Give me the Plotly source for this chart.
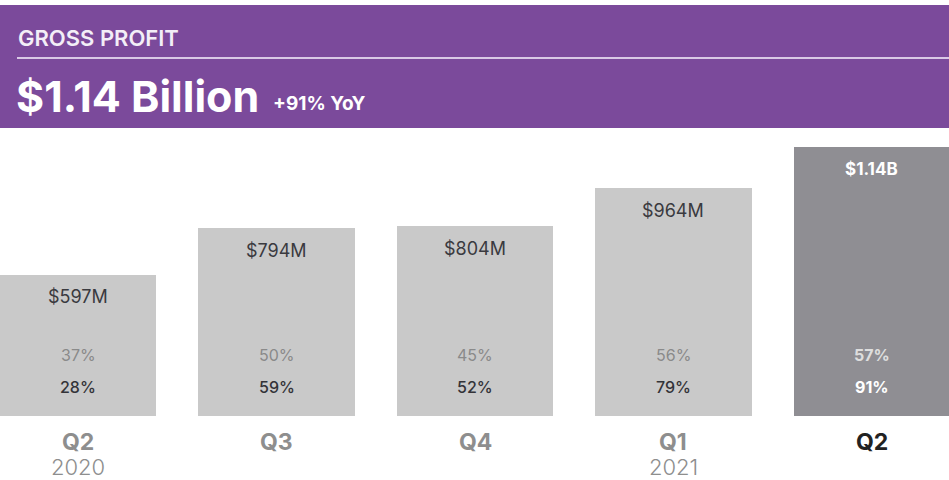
import plotly.graph_objects as go

# ---- data ----
categories = ["Q2 2020", "Q3 2020", "Q4 2020", "Q1 2021", "Q2 2021"]
quarter_labels = ["Q2", "Q3", "Q4", "Q1", "Q2"]
year_labels = ["2020", "", "", "2021", ""]
gross_profit_m = [597, 794, 804, 964, 1140]
value_labels = ["$597M", "$794M", "$804M", "$964M", "$1.14B"]
pct_row1 = ["37%", "50%", "45%", "56%", "57%"]
pct_row2 = ["28%", "59%", "52%", "79%", "91%"]

title_text = "GROSS PROFIT"
headline_text = "$1.14 Billion"
sub_text = "+91% YoY"

# ---- styles ----
FONT = "Inter"
bar_colors = ["#c9c9c9"] * 4 + ["#8f8e93"]
value_colors = ["#3a3a3f"] * 4 + ["#ffffff"]
row1_colors = ["#8a8a8a"] * 4 + ["#dedede"]
row2_colors = ["#333338"] * 4 + ["#ffffff"]
q_colors = ["#8e8e8e"] * 4 + ["#222222"]
purple = "#7b4a9b"

fig = go.Figure()
fig.add_trace(go.Bar(
    x=categories, y=gross_profit_m,
    marker=dict(color=bar_colors, line=dict(width=0)),
    width=0.79, hoverinfo="skip", showlegend=False,
))

ann = []
for i, c in enumerate(categories):
    last = i == len(categories) - 1
    ann.append(dict(x=c, y=gross_profit_m[i], xref="x", yref="y", text=value_labels[i],
                    showarrow=False, yanchor="middle", yshift=-22,
                    font=dict(family=FONT, size=17 if last else 18, color=value_colors[i],
                              weight="bold" if last else "normal")))
    ann.append(dict(x=c, y=0, xref="x", yref="y", text=pct_row1[i], showarrow=False,
                    yanchor="middle", yshift=61,
                    font=dict(family=FONT, size=16, color=row1_colors[i],
                              weight="bold" if last else "normal")))
    ann.append(dict(x=c, y=0, xref="x", yref="y", text=pct_row2[i], showarrow=False,
                    yanchor="middle", yshift=29,
                    font=dict(family=FONT, size=16, color=row2_colors[i],
                              weight=700 if last else 500)))
    ann.append(dict(x=c, y=0, xref="x", yref="y", text=quarter_labels[i], showarrow=False,
                    yanchor="middle", yshift=-26,
                    font=dict(family=FONT, size=23, color=q_colors[i], weight="bold")))
    if year_labels[i]:
        ann.append(dict(x=c, y=0, xref="x", yref="y", text=year_labels[i], showarrow=False,
                        yanchor="middle", yshift=-51,
                        font=dict(family=FONT, size=22, color="#8e8e8e", weight=300)))

H = 480.0
def py(p):
    return 1 - p / H

ann.append(dict(x=16 / 949, y=py(38), xref="paper", yref="paper", text=title_text,
                showarrow=False, xanchor="left", yanchor="middle",
                font=dict(family=FONT, size=22, color="#f3eef7", weight=600)))
ann.append(dict(x=14 / 949, y=py(96), xref="paper", yref="paper", text=headline_text,
                showarrow=False, xanchor="left", yanchor="middle",
                font=dict(family=FONT, size=43, color="#ffffff", weight="bold")))
ann.append(dict(x=271 / 949, y=py(103), xref="paper", yref="paper", text=sub_text,
                showarrow=False, xanchor="left", yanchor="middle",
                font=dict(family=FONT, size=19, color="#ffffff", weight="bold")))

shapes = [
    dict(type="rect", xref="paper", yref="paper", x0=0, x1=1, y0=py(128), y1=py(5),
         fillcolor=purple, line=dict(width=0), layer="above"),
    dict(type="line", xref="paper", yref="paper", x0=17 / 949, x1=1, y0=py(58), y1=py(58),
         line=dict(color="#d9c9e6", width=2), layer="above"),
]

fig.update_layout(
    width=949, height=480,
    margin=dict(l=0, r=0, t=0, b=0),
    paper_bgcolor="white", plot_bgcolor="white",
    xaxis=dict(range=[-0.393, 4.388], visible=False, fixedrange=True),
    yaxis=dict(range=[-271, 1761], visible=False, fixedrange=True),
    shapes=shapes, annotations=ann, bargap=0,
)

fig.write_html("out.html", config={"displayModeBar": False})
